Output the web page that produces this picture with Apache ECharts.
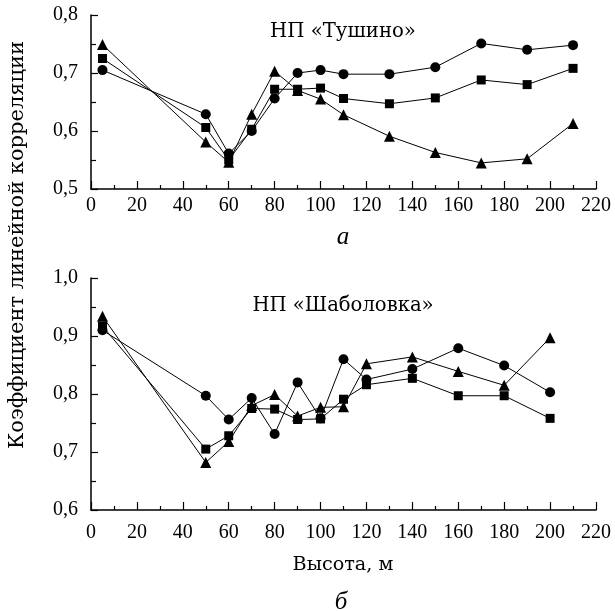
<!DOCTYPE html>
<html><head><meta charset="utf-8">
<script src="https://cdn.jsdelivr.net/npm/echarts@6/dist/echarts.min.js"></script>
<style>html,body{margin:0;padding:0;background:#fff}#c{width:615px;height:611px}</style>
</head><body><div id="c"></div>
<script>
// Top panel (а) — НП «Тушино»
const heightsA = [5, 50, 60, 70, 80, 90, 100, 110, 130, 150, 170, 190, 210];
const tushinoCircle   = [0.705, 0.629, 0.561, 0.600, 0.656, 0.700, 0.705, 0.698, 0.698, 0.710, 0.751, 0.740, 0.748];
const tushinoSquare   = [0.725, 0.606, 0.550, 0.603, 0.672, 0.672, 0.674, 0.656, 0.647, 0.657, 0.688, 0.680, 0.708];
const tushinoTriangle = [0.749, 0.581, 0.546, 0.629, 0.703, 0.670, 0.655, 0.628, 0.591, 0.563, 0.545, 0.552, 0.613];
// Bottom panel (б) — НП «Шаболовка»
const heightsB = [5, 50, 60, 70, 80, 90, 100, 110, 120, 140, 160, 180, 200];
const shabCircle   = [0.910, 0.797, 0.756, 0.793, 0.731, 0.820, 0.758, 0.860, 0.825, 0.843, 0.879, 0.849, 0.803];
const shabSquare   = [0.917, 0.705, 0.728, 0.775, 0.774, 0.756, 0.757, 0.791, 0.816, 0.827, 0.797, 0.797, 0.758];
const shabTriangle = [0.934, 0.682, 0.718, 0.780, 0.799, 0.762, 0.777, 0.778, 0.852, 0.864, 0.839, 0.815, 0.897];
const xTicks = {min: 0, max: 220, interval: 20};
const yTicksA = {min: 0.5, max: 0.8, interval: 0.1};
const yTicksB = {min: 0.6, max: 1.0, interval: 0.1};
const titleA = 'НП «Тушино»';
const titleB = 'НП «Шаболовка»';
const xTitle = 'Высота, м';
const yTitle = 'Коэффициент линейной корреляции';

const FONT = '"DejaVu Serif", "Liberation Serif", serif';
const TICKFONT = '"Liberation Serif", "DejaVu Serif", serif';
const pair = (xs, ys) => xs.map((x, i) => [x, ys[i]]);
const fmtY = v => v.toFixed(1).replace('.', ',');

const ctx = document.createElement('canvas').getContext('2d');
function fitSize(text, target, style) {
  ctx.font = (style || '') + ' 100px ' + FONT;
  return Math.round(100 * target / ctx.measureText(text).width * 10) / 10;
}

function xAxis(idx, margin) {
  return {
    type: 'value', gridIndex: idx, min: xTicks.min, max: xTicks.max, interval: xTicks.interval,
    axisLine: {show: true, lineStyle: {color: '#000', width: 1.5}},
    axisTick: {show: true, inside: true, length: 8, lineStyle: {color: '#000', width: 1.2}},
    minorTick: {show: true, splitNumber: 2, length: 4, lineStyle: {color: '#000', width: 1.2}},
    axisLabel: {color: '#000', fontFamily: TICKFONT, fontSize: 20, margin: margin},
    splitLine: {show: false}
  };
}
function yAxis(idx, t) {
  return {
    type: 'value', gridIndex: idx, min: t.min, max: t.max, interval: t.interval,
    axisLine: {show: true, lineStyle: {color: '#000', width: 1.5}},
    axisTick: {show: true, inside: true, length: 7, lineStyle: {color: '#000', width: 1.2}},
    minorTick: {show: true, splitNumber: 2, length: 5, lineStyle: {color: '#000', width: 1.2}},
    axisLabel: {color: '#000', fontFamily: TICKFONT, fontSize: 20, margin: 13, formatter: fmtY},
    splitLine: {show: false}
  };
}
function line(idx, xs, ys, sym, size) {
  return {
    type: 'line', xAxisIndex: idx, yAxisIndex: idx, data: pair(xs, ys),
    symbol: sym, symbolSize: size, showSymbol: true,
    lineStyle: {color: '#000', width: 1}, itemStyle: {color: '#000'},
    animation: false, silent: true
  };
}
function label(text, x, y, size, style, rot, fam) {
  return {type: 'text', x: x, y: y, rotation: rot || 0,
    style: {text: text, font: (style || '') + ' ' + size + 'px ' + (fam || FONT), fill: '#000', align: 'center', verticalAlign: 'middle'}};
}
const chart = echarts.init(document.getElementById('c'), null, {renderer: 'canvas'});
chart.setOption({
  animation: false,
  grid: [
    {left: 91, top: 15, width: 505, height: 174},
    {left: 91, top: 278, width: 505, height: 232}
  ],
  xAxis: [xAxis(0, 7), xAxis(1, 13)],
  yAxis: [yAxis(0, yTicksA), yAxis(1, yTicksB)],
  series: [
    line(0, heightsA, tushinoCircle, 'circle', 10),
    line(0, heightsA, tushinoSquare, 'rect', 9),
    line(0, heightsA, tushinoTriangle, 'triangle', 11),
    line(1, heightsB, shabCircle, 'circle', 10),
    line(1, heightsB, shabSquare, 'rect', 9),
    line(1, heightsB, shabTriangle, 'triangle', 11)
  ],
  graphic: [
    label(titleA, 343, 32, fitSize(titleA, 146)),
    label(titleB, 343, 306, fitSize(titleB, 181)),
    label('а', 343, 237, 25, 'italic', 0, TICKFONT),
    label('б', 341, 602, 25, 'italic', 0, TICKFONT),
    label(xTitle, 343, 565, fitSize(xTitle, 101)),
    label(yTitle, 18, 245, Math.min(21, fitSize(yTitle, 440)), '', Math.PI / 2)
  ]
});
</script></body></html>
